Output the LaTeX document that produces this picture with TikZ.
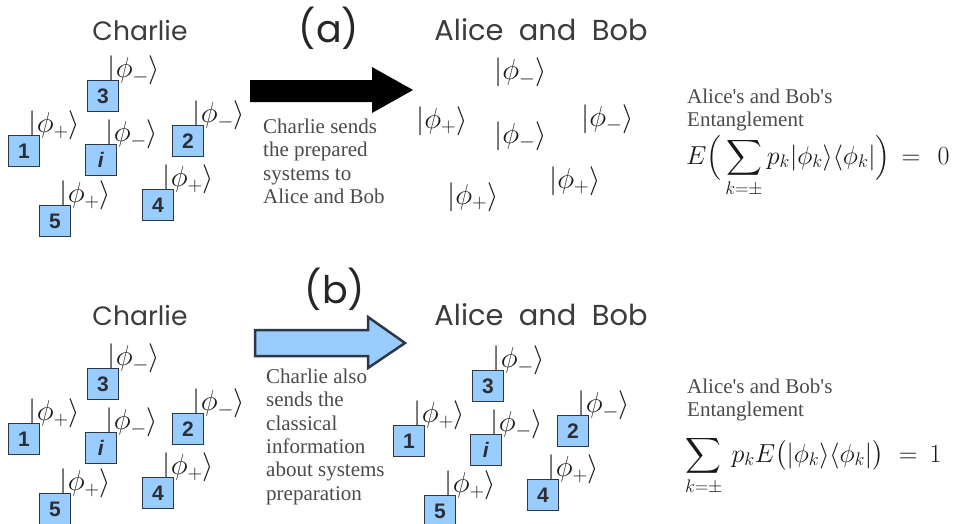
\documentclass[tikz,border=0pt]{standalone}
\usepackage{fix-cm}
\usepackage{amsmath}
\usepackage{graphicx}
\usepackage{fontspec}
\newfontfamily\handfont{Poppins}
\newfontfamily\serifft{Liberation Serif}
\newfontfamily\numfont{Liberation Sans}
\definecolor{boxblue}{RGB}{153,204,255}
\definecolor{boxborder}{RGB}{45,55,70}
\definecolor{numgray}{RGB}{45,45,50}
\definecolor{textgray}{RGB}{75,75,75}
\definecolor{handgray}{RGB}{60,60,60}
\tikzset{
  numbox/.style={draw=boxborder, line width=1.5pt, fill=boxblue, minimum width=31pt, minimum height=31pt, inner sep=0pt, text=numgray, font=\numfont\bfseries\fontsize{21}{21}\selectfont},
  ketnode/.style={inner sep=0pt, text=black!90, font=\fontsize{29}{34}\selectfont},
  hand/.style={inner sep=0pt, text=handgray, font=\handfont},
  descr/.style={inner sep=0pt, text=textgray, align=left, font=\serifft\fontsize{21}{23.4}\selectfont},
  eqnode/.style={inner sep=0pt, text=black!90},
  arrowshape/.style={line width=2.5pt, line join=miter}
}
\newcommand\sysgroup[3]{%
  \foreach \lab/\dx/\dy/\sg/\txt in {3/0/0/-/3, 1/-79/55/+/1, i/-2/64/-/\textit{i}, 2/85/45/-/2, 4/55/109/+/4, 5/-48/125/+/5} {
    \node[ketnode, anchor=west] (#3k\lab) at (#1+\dx+4.5, #2+\dy-25.5) {$|\phi_\sg\rangle$};
    \node[numbox] (#3b\lab) at (#1+\dx, #2+\dy) {\txt};
  }%
}
\begin{document}
\begin{tikzpicture}[x=1pt, y=-1pt]
\fill[white] (0,0) rectangle (957,523);
\useasboundingbox (0,0) rectangle (957,523);

% ---------- (a) ----------
\node[hand, anchor=base] (charA) at (140,40) {\resizebox{95pt}{!}{Charlie}};
\node[hand, anchor=base, text=black!85] (labA) at (329,42) {\fontsize{38}{40}\selectfont (a)};
\node[hand, anchor=base] (abA) at (541,40) {\resizebox{213pt}{!}{Alice\ \ and\ \ Bob}};

\sysgroup{103}{96}{ca}

\fill[black] (250,80) -- (372,80) -- (372,67) -- (413,90) -- (372,113) -- (372,102) -- (250,102) -- cycle;

\node[descr, anchor=north west] (txtA) at (263,118.5) {Charlie sends\\the prepared\\systems to\\Alice and Bob};

\node[ketnode, anchor=west] (ka1) at (494,72.5) {$|\phi_-\rangle$};
\node[ketnode, anchor=west] (ka2) at (416,121) {$|\phi_+\rangle$};
\node[ketnode, anchor=west] (ka3) at (494,136) {$|\phi_-\rangle$};
\node[ketnode, anchor=west] (ka4) at (581,119) {$|\phi_-\rangle$};
\node[ketnode, anchor=west] (ka5) at (549,181) {$|\phi_+\rangle$};
\node[ketnode, anchor=west] (ka6) at (447,197) {$|\phi_+\rangle$};

\node[descr, anchor=north west] (entA) at (687,88.5) {Alice's and Bob's\\Entanglement};
\node[eqnode, anchor=base west, font=\fontsize{26}{30}\selectfont] (eqA) at (686,164) {$\displaystyle E\Bigl(\hspace{4pt}\sum_{k=\pm} p_k|\phi_k\rangle\langle\phi_k|\Bigr)\hspace{4pt}=\hspace{10pt}0$};

% ---------- (b) ----------
\node[hand, anchor=base] (charB) at (140,325) {\resizebox{95pt}{!}{Charlie}};
\node[hand, anchor=base, text=black!85] (labB) at (335,303) {\fontsize{38}{40}\selectfont (b)};
\node[hand, anchor=base] (abB) at (541,325) {\resizebox{213pt}{!}{Alice\ \ and\ \ Bob}};

\sysgroup{103}{384}{cb}
\sysgroup{488}{386}{ab}

\filldraw[arrowshape, fill=boxblue, draw=boxborder] (255,330) -- (368,330) -- (368,317) -- (405,343) -- (368,368) -- (368,356) -- (255,356) -- cycle;

\node[descr, anchor=north west] (txtB) at (266,368.5) {Charlie also\\sends the\\classical\\information\\about systems\\preparation};

\node[descr, anchor=north west] (entB) at (687,378.5) {Alice's and Bob's\\Entanglement};
\node[eqnode, anchor=base west, font=\fontsize{26}{30}\selectfont] (eqB) at (685,462) {$\displaystyle \sum_{k=\pm}\hspace{5pt} p_k E\bigl(|\phi_k\rangle\langle\phi_k|\bigr)\hspace{8pt}=\hspace{5pt}1$};
\end{tikzpicture}
\end{document}
